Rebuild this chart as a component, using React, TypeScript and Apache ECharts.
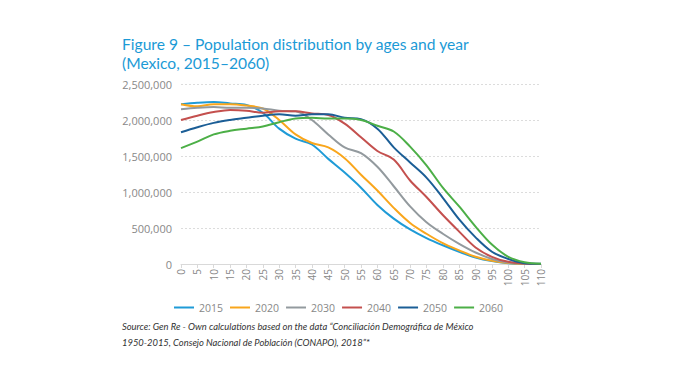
import React, { useEffect, useRef } from "react";
import * as echarts from "echarts";

const ages = [0, 5, 10, 15, 20, 25, 30, 35, 40, 45, 50, 55, 60, 65, 70, 75, 80, 85, 90, 95, 100, 105, 110];
const years = ["2015", "2020", "2030", "2040", "2050", "2060"];
const colors = ["#1f9bd7", "#f9a61c", "#939a9e", "#c4504e", "#1b5e96", "#4caf47"];

const pop2015 = [2.22, 2.24, 2.25, 2.23, 2.21, 2.1, 1.88, 1.74, 1.66, 1.46, 1.27, 1.06, 0.82, 0.63, 0.48, 0.36, 0.26, 0.17, 0.09, 0.04, 0.012, 0.002, 0];
const pop2020 = [2.22, 2.19, 2.22, 2.22, 2.2, 2.16, 2.0, 1.8, 1.68, 1.62, 1.47, 1.24, 1.02, 0.78, 0.57, 0.42, 0.29, 0.19, 0.1, 0.045, 0.015, 0.003, 0];
const pop2030 = [2.15, 2.17, 2.18, 2.17, 2.17, 2.16, 2.13, 2.12, 2.0, 1.8, 1.62, 1.54, 1.35, 1.08, 0.8, 0.58, 0.42, 0.28, 0.16, 0.07, 0.02, 0.004, 0];
const pop2040 = [2.0, 2.06, 2.11, 2.14, 2.13, 2.1, 2.12, 2.12, 2.09, 2.07, 1.95, 1.76, 1.57, 1.45, 1.16, 0.93, 0.68, 0.45, 0.23, 0.1, 0.03, 0.006, 0];
const pop2050 = [1.83, 1.9, 1.96, 2.0, 2.03, 2.06, 2.08, 2.06, 2.08, 2.08, 2.03, 2.01, 1.88, 1.62, 1.41, 1.2, 0.92, 0.62, 0.37, 0.17, 0.07, 0.012, 0.002];
const pop2060 = [1.61, 1.7, 1.8, 1.85, 1.88, 1.91, 1.97, 2.02, 2.03, 2.02, 2.02, 2.0, 1.92, 1.84, 1.63, 1.37, 1.06, 0.8, 0.52, 0.27, 0.1, 0.025, 0.003];
const seriesValues = [pop2015, pop2020, pop2030, pop2040, pop2050, pop2060];

const fmt = (v: number) => v.toLocaleString("en-US");

export default function App() {
  const ref = useRef<HTMLDivElement>(null);
  useEffect(() => {
    if (!ref.current) return;
    const chart = echarts.init(ref.current, undefined, { renderer: "svg" });
    const font = "Lato, 'Open Sans', sans-serif";
    chart.setOption({
      animation: false,
      backgroundColor: "#ffffff",
      textStyle: { fontFamily: font },
      title: {
        text: "Figure 9 – Population distribution by ages and year\n(Mexico, 2015–2060)",
        left: 117,
        top: 29,
        textStyle: { color: "#1b9ad6", fontSize: 15.6, fontWeight: "normal", lineHeight: 19, fontFamily: font },
      },
      grid: { left: 181, right: 133, top: 84, bottom: 116, containLabel: false },
      legend: {
        top: 297,
        left: 169,
        itemWidth: 20,
        itemHeight: 2,
        itemGap: 7,
        icon: "rect",
        textStyle: { color: "#888", fontSize: 10.5, fontFamily: "'Open Sans', sans-serif" },
        data: years,
      },
      xAxis: {
        type: "value",
        min: 0,
        max: 110,
        interval: 5,
        axisLine: { show: true, lineStyle: { color: "#d9d9d9" } },
        axisTick: { show: true, length: 4, lineStyle: { color: "#d9d9d9" } },
        splitLine: { show: false },
        axisLabel: { rotate: 90, color: "#888", fontSize: 10, margin: 5, fontFamily: "'Open Sans', sans-serif" },
      },
      yAxis: {
        type: "value",
        min: 0,
        max: 2500000,
        interval: 500000,
        axisLine: { show: false },
        axisTick: { show: false },
        splitLine: { lineStyle: { color: "#dcdcdc", type: [2, 2] } },
        axisLabel: { color: "#888", fontSize: 11, margin: 9, fontFamily: "'Open Sans', sans-serif", formatter: (v: number) => fmt(v) },
      },
      series: years.map((y, i) => ({
        name: y,
        type: "line",
        smooth: 0.35,
        symbol: "none",
        color: colors[i],
        lineStyle: { width: 2, color: colors[i] },
        data: ages.map((a, j) => [a, Math.round(seriesValues[i][j] * 1000000)]),
      })),
      graphic: [
        {
          type: "text",
          left: 122,
          top: 318,
          style: {
            text: "Source: Gen Re - Own calculations based on the data “Conciliación Demográfica de México\n1950-2015, Consejo Nacional de Población (CONAPO), 2018”*",
            fill: "#333",
            font: `italic 9.4px ${font}`,
            lineHeight: 16,
          },
        },
      ],
    });
    return () => chart.dispose();
  }, []);
  return <div ref={ref} style={{ position: "absolute", left: 0, top: 0, width: 674, height: 380 }} />;
}
